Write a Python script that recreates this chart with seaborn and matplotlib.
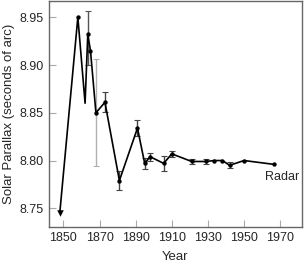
import numpy as np
import pandas as pd
import matplotlib
matplotlib.use("Agg")
import matplotlib.pyplot as plt
import seaborn as sns

# data
years = [1848, 1858, 1862, 1863.5, 1865, 1868, 1873, 1881, 1891, 1895, 1898,
         1905.5, 1910, 1921, 1929, 1933.5, 1938, 1942, 1950, 1966.5]
parallax = [8.745, 8.950, 8.860, 8.932, 8.915, 8.850, 8.861, 8.779, 8.834, 8.797,
            8.804, 8.797, 8.807, 8.799, 8.799, 8.800, 8.800, 8.795, 8.800, 8.796]
has_marker = [False, True, False, True, True, True, True, True, True, True, True,
              True, True, True, True, True, True, True, True, True]
err_low = [0, 0, 0, 0.032, 0, 0.056, 0.0105, 0.010, 0.008, 0.006, 0.004,
           0.008, 0.003, 0.003, 0.003, 0, 0, 0.003, 0, 0]
err_high = [0, 0, 0, 0.025, 0, 0.056, 0.0105, 0.010, 0.008, 0.006, 0.004,
            0.008, 0.003, 0.003, 0.003, 0, 0, 0.003, 0, 0]
err_color = ["k", "k", "k", "#555555", "k", "#b0b0b0", "#444444", "#444444",
             "#444444", "#444444", "#444444", "#444444", "#444444", "#444444",
             "#444444", "k", "k", "#444444", "k", "k"]
x_ticks = [1850, 1870, 1890, 1910, 1930, 1950, 1970]
y_ticks = [8.75, 8.80, 8.85, 8.90, 8.95]

df = pd.DataFrame({"Year": years, "Parallax": parallax, "marker": has_marker,
                   "lo": err_low, "hi": err_high, "ec": err_color})

sns.set_style("ticks")
plt.rcParams["font.family"] = ["Liberation Sans", "DejaVu Sans"]

fig, ax = plt.subplots(figsize=(3.04, 2.66), dpi=100)
fig.subplots_adjust(left=0.161, right=0.993, top=0.996, bottom=0.147)

# error bars
for _, r in df[df.lo > 0].iterrows():
    ax.errorbar(r.Year, r.Parallax, yerr=[[r.lo], [r.hi]], fmt="none",
                ecolor=r.ec, elinewidth=1.0, capsize=2.5, capthick=0.8, zorder=1)

sns.lineplot(data=df, x="Year", y="Parallax", color="black", linewidth=1.2,
             sort=False, estimator=None, ax=ax, zorder=2)
sns.scatterplot(data=df[df.marker], x="Year", y="Parallax", color="black",
                s=10, edgecolor="black", linewidth=0, ax=ax, zorder=3)
first = df.iloc[[0]]
sns.scatterplot(data=first, x="Year", y="Parallax", color="black", marker="v",
                s=22, edgecolor="black", linewidth=0, ax=ax, zorder=3)

ax.text(1961.5, 8.7895, "Radar", fontsize=9, ha="left", va="top")

ax.set_xlim(1842, 1982)
ax.set_ylim(8.7305, 8.967)
ax.set_xticks(x_ticks)
ax.set_yticks(y_ticks)
ax.set_yticklabels([f"{v:.2f}" for v in y_ticks])
ax.tick_params(direction="in", length=5, width=0.8, color="#aaaaaa",
               labelsize=9, pad=4)
ax.set_xlabel("Year", fontsize=9.5, labelpad=5)
ax.set_ylabel("Solar Parallax (seconds of arc)", fontsize=9.5, labelpad=3)
for s in ax.spines.values():
    s.set_visible(True)
    s.set_color("#666666")
    s.set_linewidth(1.0)

fig.savefig("out.png", dpi=100)
